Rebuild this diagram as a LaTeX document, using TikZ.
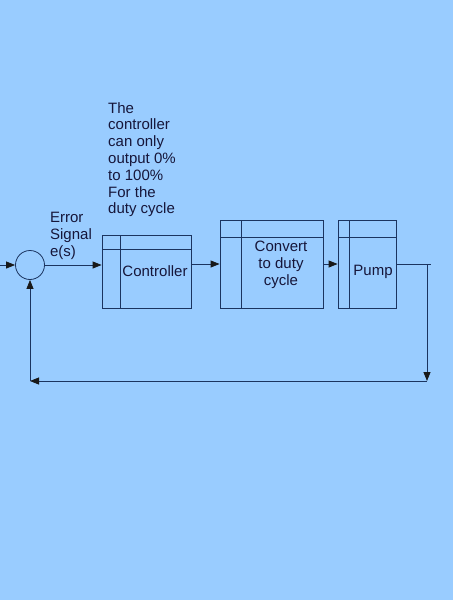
\documentclass[tikz,border=0pt]{standalone}
\usepackage{fontspec}
\setmainfont{Liberation Sans}
\usepackage{tikz}
\usetikzlibrary{arrows.meta}
\usetikzlibrary{calc}
\usetikzlibrary{positioning}
\usepackage{xcolor}
\definecolor{bgblue}{HTML}{99CCFF}
\definecolor{linecol}{HTML}{1B3460}
\definecolor{textcol}{HTML}{16163A}

\begin{document}
\begin{tikzpicture}[x=1pt, y=-1pt, >={Triangle[length=9pt,width=7pt,color=black!90]},
      line/.style={linecol, line width=0.8pt},
      block/.style n args={4}{line, draw, rectangle, minimum width=#1, minimum height=#2, inner sep=0pt,
        path picture={
          \draw[line] ($(path picture bounding box.north west)+(#3,0)$) -- ($(path picture bounding box.south west)+(#3,0)$);
          \draw[line] ($(path picture bounding box.north west)+(0,-#4)$) -- ($(path picture bounding box.north east)+(0,-#4)$);}},
      summer/.style={line, draw, circle, minimum size=29pt, inner sep=0pt},
      every node/.style={font=\fontsize{15}{16.8}\selectfont, text=textcol}]
      % Background
      \fill[bgblue] (0,0) rectangle (453,600);
      \useasboundingbox (0,0) rectangle (453,600);
      % Summing junction and blocks
      \node[summer] (sum) at (30,265) {};
      \node[block={89pt}{73pt}{18pt}{14pt}] (ctrl) at (146.5,271.5) {};
      \node[block={103pt}{88pt}{21pt}{17pt}] (conv) at (271.5,264) {};
      \node[block={58pt}{88pt}{11pt}{17pt}] (pump) at (367,264) {};
      % Block texts
      \node (ctrltxt) at (155,271) {Controller};
      \node[align=center] (convtxt) at (281,265) {Convert\\to duty\\cycle};
      \node (pumptxt) at (373,272) {Pump};
      \node[align=left] (errtxt) at (71,236) {Error\\Signal\\e(s)};
      \node[align=left, anchor=north west, inner sep=0pt] (note) at (108,102)
        {The\\controller\\can only\\output 0\%\\to 100\%\\For the\\duty cycle};
      % Feedback corners
      \coordinate (in) at (0,265);
      \coordinate (tap) at (431,264);
      \coordinate (turn) at (427,264);
      \coordinate (down) at (427,381);
      \coordinate (back) at (30,381);
      % Forward path
      \draw[line, ->] (in) -- (sum.west);
      \draw[line, ->] (sum.east) -- (sum.east -| ctrl.west);
      \draw[line, ->] (ctrl.east |- conv.west) -- (conv.west);
      \draw[line, ->] (conv.east) -- (pump.west);
      % Feedback path
      \draw[line] (pump.east) -- (tap);
      \draw[line, ->] (turn) -- (down);
      \draw[line, ->] (down) -- (back);
      \draw[line, ->] (back) -- (sum.south);
    \end{tikzpicture}
\end{document}
